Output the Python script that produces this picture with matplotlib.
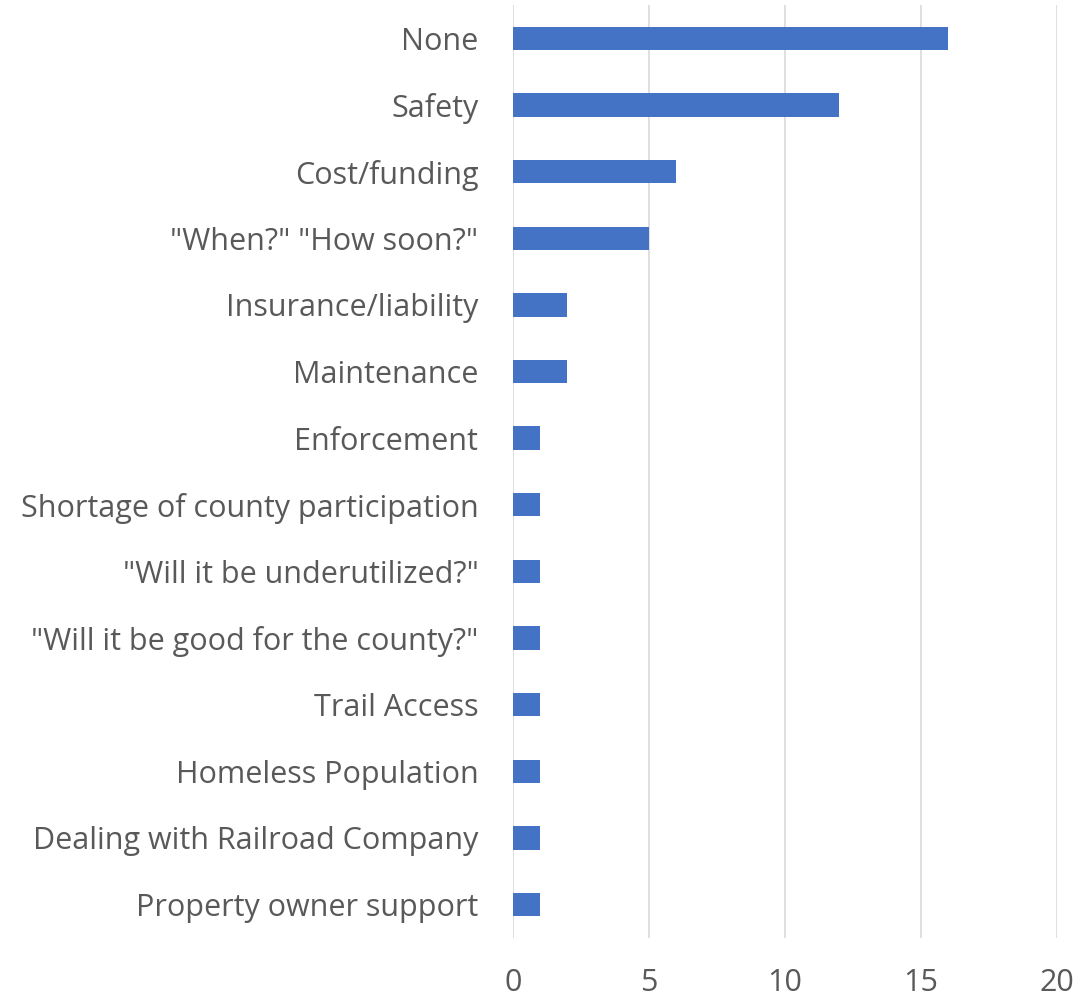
import matplotlib
matplotlib.use("Agg")
import matplotlib.pyplot as plt

# concerns raised, top to bottom as shown
categories = ["None", "Safety", "Cost/funding", '"When?" "How soon?"',
              "Insurance/liability", "Maintenance", "Enforcement",
              "Shortage of county participation", '"Will it be underutilized?"',
              '"Will it be good for the county?"', "Trail Access",
              "Homeless Population", "Dealing with Railroad Company",
              "Property owner support"]
counts = [16, 12, 6, 5, 2, 2, 1, 1, 1, 1, 1, 1, 1, 1]
xticks = [0, 5, 10, 15, 20]

plt.rcParams['font.family'] = ['Open Sans', 'DejaVu Sans']

fig = plt.figure(figsize=(10.91, 10.01), dpi=100)
ax = fig.add_axes([0.4702, 0.063, 0.4986, 0.932])

pos = list(range(len(categories)))[::-1]
ax.barh(pos, counts, height=0.35, color="#4472C4", zorder=3)

ax.set_xlim(0, 20)
ax.set_ylim(-0.5, len(categories) - 0.5)
ax.set_xticks(xticks)
ax.set_yticks(pos)
ax.set_yticklabels(categories)
ax.grid(axis="x", color="#D9D9D9", linewidth=1.2, zorder=0)
for s in ax.spines.values():
    s.set_visible(False)
ax.tick_params(axis="both", length=0, labelsize=22, labelcolor="#595959")
ax.tick_params(axis="x", pad=22)
ax.tick_params(axis="y", pad=25)

fig.savefig("out.png", dpi=100)
